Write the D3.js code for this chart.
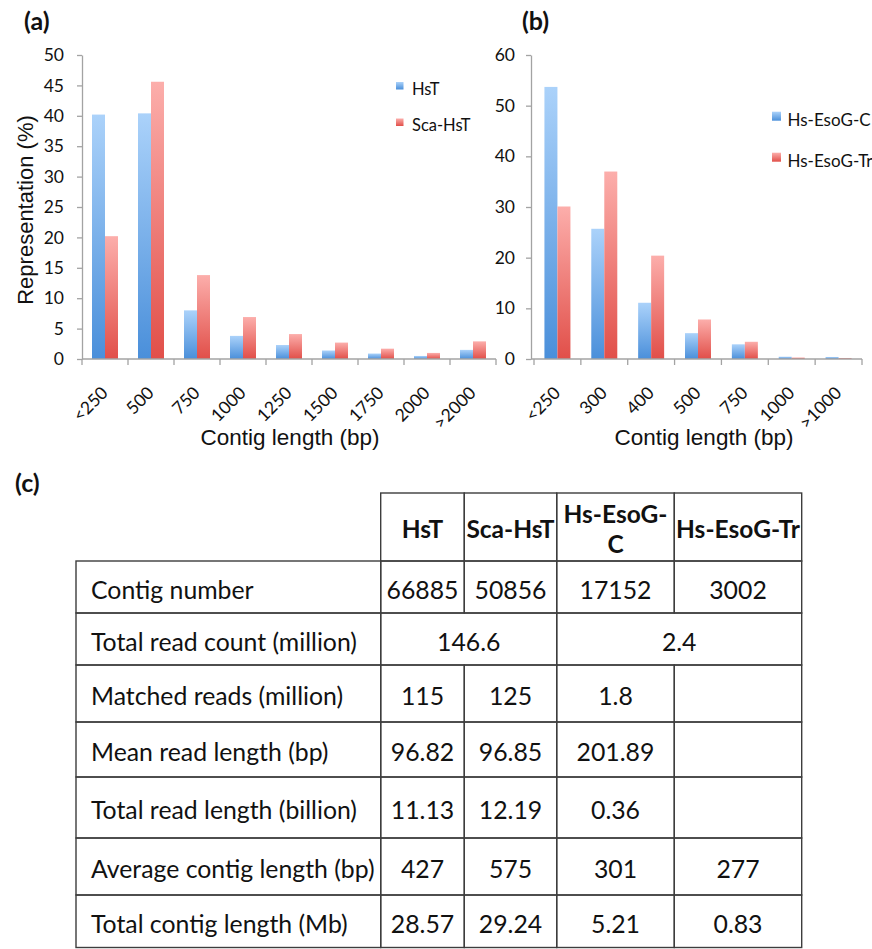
<!DOCTYPE html>
<html>
<head>
<meta charset="utf-8">
<script src="https://cdn.jsdelivr.net/npm/d3@7"></script>
<style>
  html, body { margin: 0; padding: 0; background: #fff; }
  svg { display: block; }
</style>
</head>
<body>
<script>
// ---- Panel (a): contig length distribution, HsT vs Sca-HsT ----
const categoriesA = ["<250", "500", "750", "1000", "1250", "1500", "1750", "2000", ">2000"];
const seriesA = ["HsT", "Sca-HsT"];
const valuesHsT = [40.2, 40.4, 8.0, 3.8, 2.3, 1.4, 0.9, 0.5, 1.5];
const valuesScaHsT = [20.2, 45.6, 13.8, 6.9, 4.1, 2.7, 1.7, 1.0, 2.9];
const ticksA = [0, 5, 10, 15, 20, 25, 30, 35, 40, 45, 50];

// ---- Panel (b): contig length distribution, Hs-EsoG-C vs Hs-EsoG-Tr ----
const categoriesB = ["<250", "300", "400", "500", "750", "1000", ">1000"];
const seriesB = ["Hs-EsoG-C", "Hs-EsoG-Tr"];
const valuesEsoGC = [53.7, 25.7, 11.1, 5.1, 2.9, 0.45, 0.4];
const valuesEsoGTr = [30.1, 37.0, 20.4, 7.8, 3.4, 0.3, 0.2];
const ticksB = [0, 10, 20, 30, 40, 50, 60];

// ---- Panel (c): assembly statistics table ----
const tableColumns = ["HsT", "Sca-HsT", "Hs-EsoG-C", "Hs-EsoG-Tr"];
const rowLabels = [
  "Contig number",
  "Total read count (million)",
  "Matched reads (million)",
  "Mean read length (bp)",
  "Total read length (billion)",
  "Average contig length (bp)",
  "Total contig length (Mb)"
];
const contigNumber = ["66885", "50856", "17152", "3002"];
const totalReadCount = ["146.6", "2.4"];          // each spans two columns
const matchedReads = ["115", "125", "1.8", ""];
const meanReadLength = ["96.82", "96.85", "201.89", ""];
const totalReadLength = ["11.13", "12.19", "0.36", ""];
const avgContigLength = ["427", "575", "301", "277"];
const totalContigLength = ["28.57", "29.24", "5.21", "0.83"];

const W = 872, H = 949;
const svg = d3.select("body").append("svg")
  .attr("width", W).attr("height", H)
  .style("font-family", "Lato, 'Open Sans', sans-serif");

svg.append("rect").attr("width", W).attr("height", H).attr("fill", "#fff");

// bar gradients: light at the top, saturated at the bottom
const defs = svg.append("defs");
function grad(id, top, bottom) {
  const g = defs.append("linearGradient").attr("id", id)
    .attr("x1", 0).attr("y1", 0).attr("x2", 0).attr("y2", 1);
  g.append("stop").attr("offset", "0%").attr("stop-color", top);
  g.append("stop").attr("offset", "100%").attr("stop-color", bottom);
}
grad("gBlue", "#abd2fa", "#4a8fda");
grad("gRed", "#fcaeab", "#e14f49");
const fills = ["url(#gBlue)", "url(#gRed)"];

const AXIS = "#a3a3a3";

function barPanel(opt) {
  const g = svg.append("g");
  const x = d3.scaleBand().domain(opt.categories).range(opt.xRange).padding(0);
  const bw = x.bandwidth();
  const inner = d3.scaleBand().domain(opt.series).range([bw / 2 - 13, bw / 2 + 13]).padding(0);
  const y = d3.scaleLinear().domain([0, opt.yMax]).range([359, 55]);

  // bars
  opt.series.forEach((s, si) => {
    g.append("g").selectAll("rect")
      .data(opt.categories.map((c, i) => ({ c, v: opt.values[si][i] })))
      .join("rect")
      .attr("x", d => x(d.c) + inner(s))
      .attr("y", d => y(d.v))
      .attr("width", inner.bandwidth())
      .attr("height", d => y(0) - y(d.v))
      .attr("fill", fills[si]);
  });

  // y axis
  const ya = g.append("g").attr("transform", `translate(${opt.yAxisX},0)`)
    .call(d3.axisLeft(y).tickValues(opt.ticks).tickSize(5).tickPadding(opt.tickPad).tickSizeOuter(0));
  ya.select(".domain").attr("stroke", AXIS).attr("stroke-width", 1.3);
  ya.selectAll(".tick line").attr("stroke", AXIS).attr("stroke-width", 1.3);
  ya.selectAll(".tick text").attr("fill", "#111").style("font-size", "17.5px")
    .style("font-family", "Lato, sans-serif");

  // x axis: line, tick marks on category boundaries, slanted labels
  const xa = g.append("g").attr("transform", `translate(0,${y(0)})`)
    .call(d3.axisBottom(x).tickSize(0).tickPadding(0));
  xa.select(".domain").remove();
  xa.append("line").attr("x1", opt.yAxisX).attr("x2", opt.xRange[1])
    .attr("stroke", AXIS).attr("stroke-width", 1.3);
  const bounds = opt.categories.map(c => x(c)).concat([x.range()[1]]);
  xa.selectAll(".bound").data(bounds).join("line").attr("class", "bound")
    .attr("x1", d => d).attr("x2", d => d).attr("y1", 0).attr("y2", 6)
    .attr("stroke", AXIS).attr("stroke-width", 1.3);
  xa.selectAll(".tick text")
    .attr("fill", "#111").attr("y", 0).attr("dy", 0)
    .attr("text-anchor", "end")
    .attr("transform", "translate(4,35) rotate(-45)")
    .style("font-size", "17.5px").style("font-family", "Lato, sans-serif");

  // x axis title
  g.append("text").attr("x", opt.titleX).attr("y", 445)
    .attr("text-anchor", "middle")
    .style("font-family", "'Liberation Sans', Arial, sans-serif")
    .style("font-size", "22.5px").attr("fill", "#111")
    .text("Contig length (bp)");

  // legend
  opt.series.forEach((s, si) => {
    const ly = opt.legend.y[si];
    g.append("rect").attr("x", opt.legend.x).attr("y", ly - opt.legend.sw - 5)
      .attr("width", opt.legend.sw).attr("height", opt.legend.sw).attr("fill", fills[si]);
    g.append("text").attr("x", opt.legend.tx).attr("y", ly)
      .style("font-size", opt.legend.fs + "px").attr("fill", "#111").text(s);
  });

  // panel tag
  svg.append("text").attr("x", opt.tag.x).attr("y", 30)
    .style("font-weight", "bold").style("font-size", "25px").attr("fill", "#111")
    .text(opt.tag.text);
  return y;
}

barPanel({
  categories: categoriesA, series: seriesA, values: [valuesHsT, valuesScaHsT],
  ticks: ticksA, yMax: 50, xRange: [82, 496], yAxisX: 82, tickPad: 13,
  titleX: 290,
  legend: { x: 396, tx: 412, sw: 7.5, y: [94.5, 131], fs: 16.5 },
  tag: { x: 24, text: "(a)" }
});
barPanel({
  categories: categoriesB, series: seriesB, values: [valuesEsoGC, valuesEsoGTr],
  ticks: ticksB, yMax: 60, xRange: [534, 862], yAxisX: 531, tickPad: 11,
  titleX: 704,
  legend: { x: 772, tx: 787.5, sw: 9, y: [125.7, 166.7], fs: 17 },
  tag: { x: 522, text: "(b)" }
});

// y axis title for panel (a)
svg.append("text")
  .attr("transform", "translate(33,210) rotate(-90)")
  .attr("text-anchor", "middle")
  .style("font-family", "'Liberation Sans', Arial, sans-serif")
  .style("font-size", "22px").attr("fill", "#111")
  .text("Representation (%)");

// ---- table (c) ----
svg.append("text").attr("x", 15).attr("y", 492)
  .style("font-weight", "bold").style("font-size", "25px").attr("fill", "#111")
  .text("(c)");

const colX = [76, 380.7, 464.3, 556.7, 674.3, 801.7];
const rowY = [493, 561, 613, 665, 722, 777, 838, 895, 947.5];
const headerLines = tableColumns.map(c => c === "Hs-EsoG-C" ? ["Hs-EsoG-", "C"] : [c]);

const rowCells = [
  contigNumber.map(t => ({ text: t, span: 1 })),
  totalReadCount.map(t => ({ text: t, span: 2 })),
  matchedReads.map(t => ({ text: t, span: 1 })),
  meanReadLength.map(t => ({ text: t, span: 1 })),
  totalReadLength.map(t => ({ text: t, span: 1 })),
  avgContigLength.map(t => ({ text: t, span: 1 })),
  totalContigLength.map(t => ({ text: t, span: 1 }))
];

const tbl = svg.append("g");
const LINE = "#3d3d3d", LW = 1.4;
const FS = 24.8;

// header cells
tableColumns.forEach((c, i) => {
  const x0 = colX[i + 1], x1 = colX[i + 2];
  tbl.append("rect").attr("x", x0).attr("y", rowY[0]).attr("width", x1 - x0).attr("height", rowY[1] - rowY[0])
    .attr("fill", "none").attr("stroke", LINE).attr("stroke-width", LW);
  const lines = headerLines[i];
  const cy = (rowY[0] + rowY[1]) / 2;
  lines.forEach((ln, li) => {
    tbl.append("text").attr("x", (x0 + x1) / 2)
      .attr("y", cy + 11 + (li - (lines.length - 1) / 2) * 30)
      .attr("text-anchor", "middle").style("font-weight", "bold")
      .style("font-size", "24.5px").attr("fill", "#111").text(ln);
  });
});

// body rows
rowLabels.forEach((lab, r) => {
  const y0 = rowY[r + 1], y1 = rowY[r + 2];
  const base = (y0 + y1) / 2 + 11.5;
  tbl.append("rect").attr("x", colX[0]).attr("y", y0).attr("width", colX[1] - colX[0]).attr("height", y1 - y0)
    .attr("fill", "none").attr("stroke", LINE).attr("stroke-width", LW);
  tbl.append("text").attr("x", colX[0] + 15).attr("y", base)
    .style("font-size", FS + "px").attr("fill", "#111").text(lab);
  let ci = 1;
  rowCells[r].forEach(cell => {
    const x0 = colX[ci], x1 = colX[ci + cell.span];
    tbl.append("rect").attr("x", x0).attr("y", y0).attr("width", x1 - x0).attr("height", y1 - y0)
      .attr("fill", "none").attr("stroke", LINE).attr("stroke-width", LW);
    tbl.append("text").attr("x", (x0 + x1) / 2).attr("y", base)
      .attr("text-anchor", "middle").style("font-size", FS + "px").attr("fill", "#111").text(cell.text);
    ci += cell.span;
  });
});
</script>
</body>
</html>
